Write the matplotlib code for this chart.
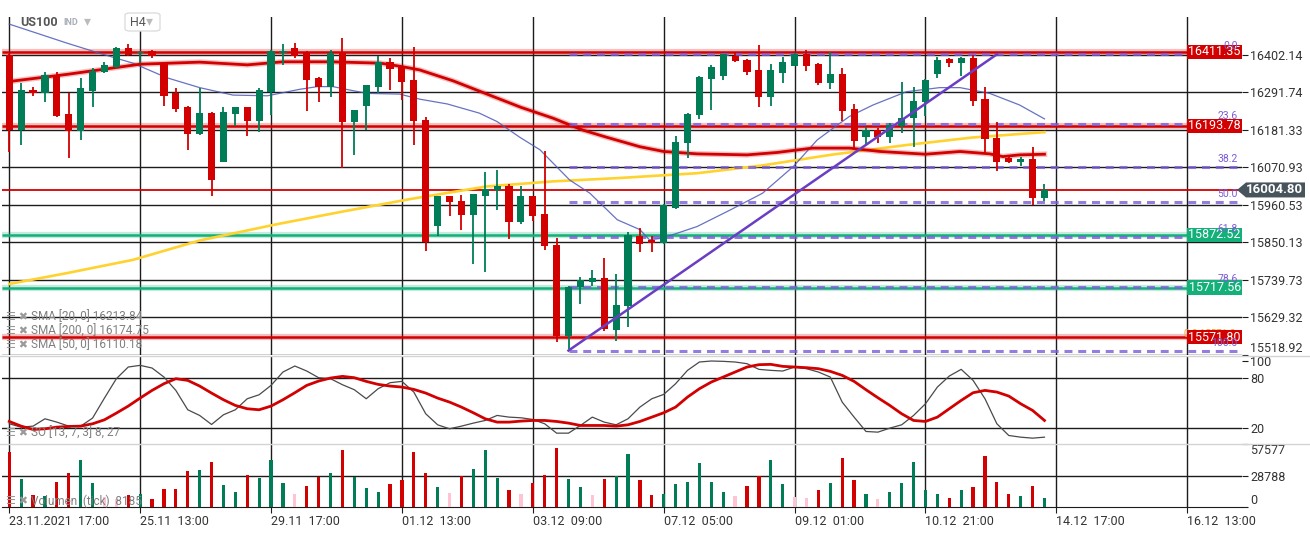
import numpy as np
import matplotlib.pyplot as plt
from matplotlib.patches import Rectangle, Polygon, FancyBboxPatch
from matplotlib.lines import Line2D

plt.rcParams['font.family'] = ['Roboto', 'DejaVu Sans']

# US100, H4 candles (23.11.2021 17:00 onwards)
opens = [16402, 16181, 16299, 16289, 16343, 16229, 16177, 16296, 16353, 16366,
         16422, 16407, 16414, 16378, 16289, 16249, 16170, 16232, 16088, 16229,
         16249, 16209, 16294, 16407, 16422, 16407, 16334, 16309, 16410, 16206,
         16252, 16309, 16381, 16368, 16329, 16211, 15899, 15986, 15973, 15931,
         15988, 16005, 16017, 15911, 15987, 15934, 15843, 15576, 15718, 15735,
         15746, 15592, 15663, 15868, 15858, 15848, 15953, 16142, 16224, 16332,
         16341, 16400, 16387, 16358, 16279, 16350, 16371, 16405, 16376, 16321,
         16346, 16243, 16162, 16182, 16162, 16194, 16216, 16263, 16345, 16390,
         16378, 16392, 16272, 16157, 16100, 16088, 16096, 15981]
highs = [16405, 16320, 16309, 16353, 16351, 16289, 16334, 16363, 16380, 16426,
         16435, 16414, 16417, 16382, 16304, 16252, 16304, 16235, 16248, 16250,
         16250, 16304, 16417, 16435, 16437, 16414, 16338, 16417, 16451, 16241,
         16315, 16399, 16393, 16369, 16427, 16219, 15987, 15987, 15991, 15994,
         16059, 16064, 16023, 16015, 15988, 16120, 15863, 15722, 15750, 15769,
         15804, 15758, 15880, 15893, 15870, 15962, 16164, 16230, 16340, 16373,
         16406, 16412, 16390, 16432, 16376, 16397, 16408, 16417, 16379, 16410,
         16363, 16258, 16189, 16187, 16201, 16322, 16307, 16330, 16397, 16392,
         16397, 16402, 16307, 16204, 16108, 16103, 16132, 16023]
lows = [16117, 16137, 16282, 16265, 16220, 16100, 16152, 16250, 16348, 16364,
        16399, 16379, 16392, 16252, 16234, 16121, 16167, 15988, 16086, 16193,
        16164, 16174, 16226, 16373, 16392, 16237, 16265, 16279, 16069, 16108,
        16182, 16289, 16299, 16270, 16137, 15826, 15868, 15929, 15887, 15787,
        15762, 15946, 15861, 15905, 15912, 15828, 15557, 15537, 15670, 15721,
        15590, 15559, 15600, 15823, 15823, 15847, 15949, 16098, 16213, 16240,
        16327, 16380, 16343, 16250, 16252, 16319, 16370, 16356, 16314, 16302,
        16209, 16128, 16137, 16142, 16144, 16172, 16132, 16221, 16335, 16368,
        16341, 16253, 16115, 16062, 16084, 16074, 15961, 15971]
closes = [16181, 16299, 16289, 16343, 16223, 16177, 16304, 16355, 16373, 16424,
          16402, 16411, 16400, 16282, 16243, 16170, 16232, 16034, 16234, 16249,
          16209, 16299, 16414, 16414, 16400, 16329, 16309, 16407, 16206, 16240,
          16314, 16381, 16362, 16324, 16209, 15853, 15986, 15968, 15931, 15993,
          16007, 16015, 15911, 15987, 15929, 15840, 15576, 15720, 15740, 15746,
          15595, 15667, 15873, 15845, 15848, 15961, 16145, 16229, 16337, 16367,
          16405, 16385, 16353, 16279, 16358, 16382, 16405, 16371, 16321, 16346,
          16238, 16150, 16182, 16162, 16196, 16216, 16267, 16329, 16387, 16378,
          16392, 16268, 16154, 16088, 16088, 16096, 15981, 16004.8]

volumes = [50601, 25755, 10605, 9696, 23331, 31512, 43329, 22422, 9090, 7575,
           10605, 12423, 7575, 16968, 16968, 33330, 34239, 41511, 20604, 14241,
           29694, 26967, 43329, 22422, 12423, 19695, 27876, 31512, 52419, 27876,
           17877, 14241, 21513, 25149, 50601, 31512, 18786, 13332, 28785, 35148,
           52419, 26967, 16059, 11514, 22422, 29694, 54237, 26058, 18786, 10605,
           26058, 28785, 48783, 25149, 10605, 11514, 21513, 23331, 40602, 23331,
           14241, 9696, 19695, 28785, 43329, 21513, 8787, 7878, 16059, 22422,
           45147, 25149, 11514, 6969, 14241, 22422, 41511, 16059, 12423, 7878,
           16059, 18786, 46965, 23331, 11514, 9696, 19695, 7878]
# d = down, u = up, l = low volume (pink)
vol_kind = list("dududduull" "dudddduduu" "duuulddudu" "uudddduldu" "uudl"
                "ddduulduudduuuuuuldduulldudduluuuuududdddudu")

so_k = [24.8, 20.8, 22, 30.8, 26.8, 22, 22, 31.6, 55.6, 78.8,
        92.8, 94.8, 91.6, 80.8, 64.8, 41.6, 34.8, 24, 35.6, 41.6,
        54.8, 59.6, 70.8, 86.8, 94, 88, 80, 78.8, 71.6, 65.6,
        54.8, 66.8, 74, 75.6, 62.8, 36.8, 23.6, 18.8, 22, 25.6,
        28.8, 34.8, 32.8, 32, 30, 24.8, 13.6, 13.6, 22.8, 32.8,
        26.8, 23.6, 30.8, 44.8, 54.8, 60, 72.8, 88.8, 98.8, 100,
        99.6, 98.8, 96.8, 90, 88.8, 88, 92.8, 90.8, 86.8, 80.8,
        50.8, 32.8, 15.6, 14.8, 19.6, 23.6, 34.8, 48.8, 68.8, 82,
        90, 76.8, 54.8, 24.8, 10.8, 8.8, 7.6, 8.8]
so_d = [27.6, 22, 18, 18.8, 20.8, 21.6, 22, 24.8, 29.6, 37.6,
        46, 55.6, 64.8, 72.8, 78.8, 76.8, 70, 61.6, 53.6, 46.8,
        42.8, 41.6, 46, 53.6, 62, 70.8, 76, 79.6, 81.6, 80,
        75.6, 72, 70, 68.8, 66, 61.6, 55.6, 50.8, 44.8, 38,
        30.8, 26.8, 26.8, 28, 28.8, 28.8, 27.6, 25.6, 22.8, 22.8,
        22.8, 22, 23.6, 27.6, 32.8, 38, 44.8, 56.8, 66.8, 74.8,
        80.8, 86.8, 92.8, 95.6, 96, 93.6, 92.8, 92, 90.8, 87.6,
        82.8, 75.6, 65.6, 56, 46.8, 36.8, 28.8, 27.6, 32.8, 42.8,
        52.8, 62, 64.8, 62.8, 58, 48.8, 40.8, 28.8]

sma20_x = [0, 4.85, 7.6, 10.4, 13.25, 16, 18.8, 21.7, 24.4, 25.9,
           27.2, 28.6, 30.1, 32.8, 34.5, 36.8, 39.5, 41, 42.9, 44.6,
           47.1, 48.8, 51.1, 53, 53.8, 54.9, 57.8, 60.6, 63.3, 65.9,
           67.9, 69.8, 70.6, 72.6, 75.4, 78.2, 79.9, 82.4, 84.9, 87]
sma20_y = [16493, 16437, 16407, 16378, 16335, 16306, 16284, 16282, 16301, 16309,
           16309, 16299, 16289, 16287, 16272, 16258, 16231, 16206, 16160, 16123,
           16034, 15995, 15917, 15888, 15858, 15863, 15897, 15946, 15995, 16074,
           16152, 16201, 16221, 16255, 16294, 16306, 16306, 16289, 16255, 16214]
sma50_x = [0, 4.85, 11, 16, 20, 23, 27, 31.2, 33, 34.5, 37.3, 40, 43, 45.7,
           48.2, 50.2, 53, 55, 57.8, 62, 64.5, 67.5, 70.6, 73.2, 77, 79.9,
           82.4, 83.5, 84.9, 87]
sma50_y = [16324, 16345, 16375, 16381, 16373, 16382, 16382, 16378, 16368, 16358,
           16326, 16289, 16248, 16216, 16181, 16160, 16132, 16118, 16111, 16108,
           16115, 16128, 16128, 16118, 16110, 16118, 16111, 16103, 16108, 16110]
sma200_x = [0, 4.85, 10.4, 16, 22.5, 28, 33.7, 40.1, 45.7, 51.3, 57.8, 63.3,
            69, 75.4, 80.9, 87]
sma200_y = [15728, 15760, 15799, 15856, 15904, 15941, 15978, 16015, 16030, 16040,
            16054, 16077, 16108, 16137, 16159, 16175]

price_ticks = [16402.14, 16291.74, 16181.33, 16070.93, 15960.53, 15850.13,
               15739.73, 15629.32, 15518.92]
date_ticks = [0, 11, 22, 33, 44, 55, 66, 77, 88, 99]
date_labels = ['23.11.2021  17:00', '25.11  13:00', '29.11  17:00', '01.12  13:00',
               '03.12  09:00', '07.12  05:00', '09.12  01:00', '10.12  21:00',
               '14.12  17:00', '16.12  13:00']

red_levels = [16411.35, 16193.78, 15571.80]
green_levels = [15872.52, 15717.56]
last_price = 16004.80

fib_start = 47
fib_high = 16406
fib_low = 15532
fib_ratios = [0.0, 23.6, 38.2, 50.0, 61.8, 78.6, 100.0]
trend_x = [47, 83]
trend_y = [15532, 16404]

sma_labels = ['SMA [20, 0] 16213.84', 'SMA [200, 0] 16174.75', 'SMA [50, 0] 16110.18']
so_label = 'SO [13, 7, 3] 8, 27'
vol_label = 'Volumen  (tick)  8185'

RED = '#d20000'
GREEN = '#007d56'
PINK = '#ffc4d4'
GRID = '#1c1c1c'
PURPLE = '#7b5cd6'
LEVEL_GREEN = '#14b07a'

W, H = 1310, 533
fig = plt.figure(figsize=(W / 100, H / 100), dpi=100)


def box(top, bottom):
    return [2 / W, 1 - bottom / H, 1240 / W, (bottom - top) / H]


ax = fig.add_axes(box(17, 355))
ax_so = fig.add_axes(box(356, 443.5))
ax_v = fig.add_axes(box(444, 507))

n = len(closes)
idx = np.arange(n)
xmin, xmax = -0.61, 103.6
for a in (ax, ax_so, ax_v):
    a.set_xlim(xmin, xmax)
    for s in a.spines.values():
        s.set_visible(False)
    a.yaxis.tick_right()
    a.tick_params(axis='y', length=4.3, width=0.8, color=GRID, pad=1.5,
                  labelsize=9, labelcolor='#333333')
    a.tick_params(axis='x', bottom=False, labelbottom=False)
    for gx in date_ticks:
        a.axvline(gx, color=GRID, lw=1, zorder=0.5)

# --- price panel
ax.set_ylim(15518.92, 16513.9)
for p in price_ticks:
    ax.axhline(p, color=GRID, lw=1, zorder=0.5)
ax.set_yticks(price_ticks, [f'{p:.2f}' for p in price_ticks])
ax.get_yticklabels()[-1].set_va('bottom')

ax.plot(sma200_x, sma200_y, color='#ffd22e', lw=1.9, zorder=2)
ax.plot(sma50_x, sma50_y, color=RED, lw=4, alpha=0.25, zorder=2)
ax.plot(sma50_x, sma50_y, color=RED, lw=2, zorder=2.1)
ax.plot(sma20_x, sma20_y, color='#4c5ab8', lw=0.9, alpha=0.85, zorder=2)

for lv in red_levels:
    ax.hlines(lv, xmin, 99, color=RED, lw=4.5, alpha=0.25, zorder=1.5)
    ax.hlines(lv, xmin, 99, color=RED, lw=1.8, zorder=1.6)
for lv in green_levels:
    ax.hlines(lv, xmin, 99, color=LEVEL_GREEN, lw=4.5, alpha=0.25, zorder=1.5)
    ax.hlines(lv, xmin, 99, color=LEVEL_GREEN, lw=1.8, zorder=1.6)
ax.axhline(last_price, color=RED, lw=1.3, zorder=1.7)

fib_levels = [fib_high - r / 100 * (fib_high - fib_low) for r in fib_ratios]
ax.hlines(fib_levels, fib_start, xmax, colors=PURPLE, lw=2.2, alpha=0.8,
          linestyles=(0, (2.6, 1.9)), zorder=2.5)

up = np.array(closes) >= np.array(opens)
cols = np.where(up, GREEN, RED)
ax.vlines(idx, lows, highs, colors=cols, lw=1.3, zorder=3)
body_lo = np.minimum(opens, closes)
body_h = np.maximum(np.abs(np.subtract(closes, opens)), 3)
ax.bar(idx, body_h, bottom=body_lo, width=0.6, color=cols, zorder=4)

ax.plot(trend_x, trend_y, color='#6a3ec4', lw=1.8, zorder=5)

# orange fib caption mostly hidden behind the level tag
ax.text(103.0, red_levels[2] + 9, '0.0 15571.8', ha='right', va='center',
        fontsize=7, color='#f0a030', zorder=5.5)
for lv, c in [(l, RED) for l in red_levels] + [(l, LEVEL_GREEN) for l in green_levels]:
    ax.add_patch(Rectangle((99, lv - 21), xmax - 99, 42, fc=c, ec='none', zorder=6,
                           clip_on=False))
    ax.text(101.3, lv, f'{lv:.2f}', ha='center', va='center', color='white',
            fontsize=9, zorder=7)
for r, lv in zip(fib_ratios, fib_levels):
    ax.text(103.25, lv + 8, f'{r:.1f}', ha='right', va='bottom', fontsize=7.5,
            color=PURPLE, zorder=8)

# current price tag
y_px = ax.transData.transform((0, last_price))[1]
tag = [(1237, y_px), (1246, y_px + 7.5), (1305, y_px + 7.5), (1305, y_px - 7.5),
       (1246, y_px - 7.5)]
fig.add_artist(Polygon([(x / W, y / H) for x, y in tag], closed=True,
                       transform=fig.transFigure, fc='#47545c', ec='none', zorder=10))
fig.text(1274 / W, y_px / H, f'{last_price:.2f}', ha='center', va='center',
         color='white', fontsize=9.5, fontweight='bold', zorder=11)

# --- stochastic panel
ax_so.set_ylim(1.2, 106)
for v in (20, 80):
    ax_so.axhline(v, color=GRID, lw=1, zorder=0.5)
ax_so.set_yticks([20, 80, 100], ['20', '80', '100'])
ax_so.plot(idx, so_k, color='#4a4a4a', lw=0.9, zorder=3)
ax_so.plot(idx, so_d, color=RED, lw=2, zorder=4)

# --- volume panel
ax_v.set_ylim(0, 58000)
ax_v.axhline(28788, color=GRID, lw=1, zorder=0.5)
ax_v.set_yticks([0, 28788, 57577], ['0', '28788', '57577'])
ax_v.get_yticklabels()[0].set_va('bottom')
ax_v.get_yticklabels()[2].set_va('top')
vcol = {'u': GREEN, 'd': RED, 'l': PINK}
ax_v.bar(idx, volumes, width=0.27, color=[vcol[k] for k in vol_kind], zorder=3)
ax_v.spines['bottom'].set_visible(True)
ax_v.spines['bottom'].set_color(GRID)
ax_v.set_xticks(date_ticks, date_labels)
ax_v.tick_params(axis='x', bottom=True, labelbottom=True, length=4, color=GRID,
                 labelsize=9, labelcolor='#333333', pad=1.5)
for t in ax_v.get_xticklabels():
    t.set_ha('left')

# panel separators
for yy in (356, 443.8):
    fig.add_artist(Line2D([0, 1], [1 - yy / H] * 2, transform=fig.transFigure,
                          color='#d4d4d4', lw=1))

# indicator captions
for i, lab in enumerate(sma_labels):
    yy = 1 - (317 + 14 * i) / H
    fig.text(6 / W, yy, '☰ ✖', fontsize=8, color='#9a9a9a', va='center')
    fig.text(31 / W, yy, lab, fontsize=8.5, color='#808080', va='center')
for yy, lab in [(433, so_label), (501, vol_label)]:
    fig.text(6 / W, 1 - yy / H, '☰ ✖', fontsize=8, color='#9a9a9a', va='center')
    fig.text(31 / W, 1 - yy / H, lab, fontsize=8.5, color='#808080', va='center')

# header
fig.text(20 / W, 1 - 22 / H, 'US100', fontsize=9, fontweight='bold', color='#555555',
         va='center')
fig.text(63 / W, 1 - 22 / H, 'IND', fontsize=6.5, fontweight='bold', color='#a9b0b8',
         va='center')
fig.text(84 / W, 1 - 21 / H, '▾', fontsize=10, color='#bbbbbb', va='center')
fig.add_artist(FancyBboxPatch((125 / W, 1 - 31 / H), 35 / W, 18 / H,
                              boxstyle='round,pad=0,rounding_size=0.004',
                              transform=fig.transFigure, fc='white', ec='#dddddd',
                              lw=1, zorder=9))
fig.text(130 / W, 1 - 22 / H, 'H4', fontsize=9, color='#555555', va='center', zorder=10)
fig.text(146 / W, 1 - 21 / H, '▾', fontsize=10, color='#bbbbbb', va='center', zorder=10)

fig.savefig('out.png', dpi=100)
